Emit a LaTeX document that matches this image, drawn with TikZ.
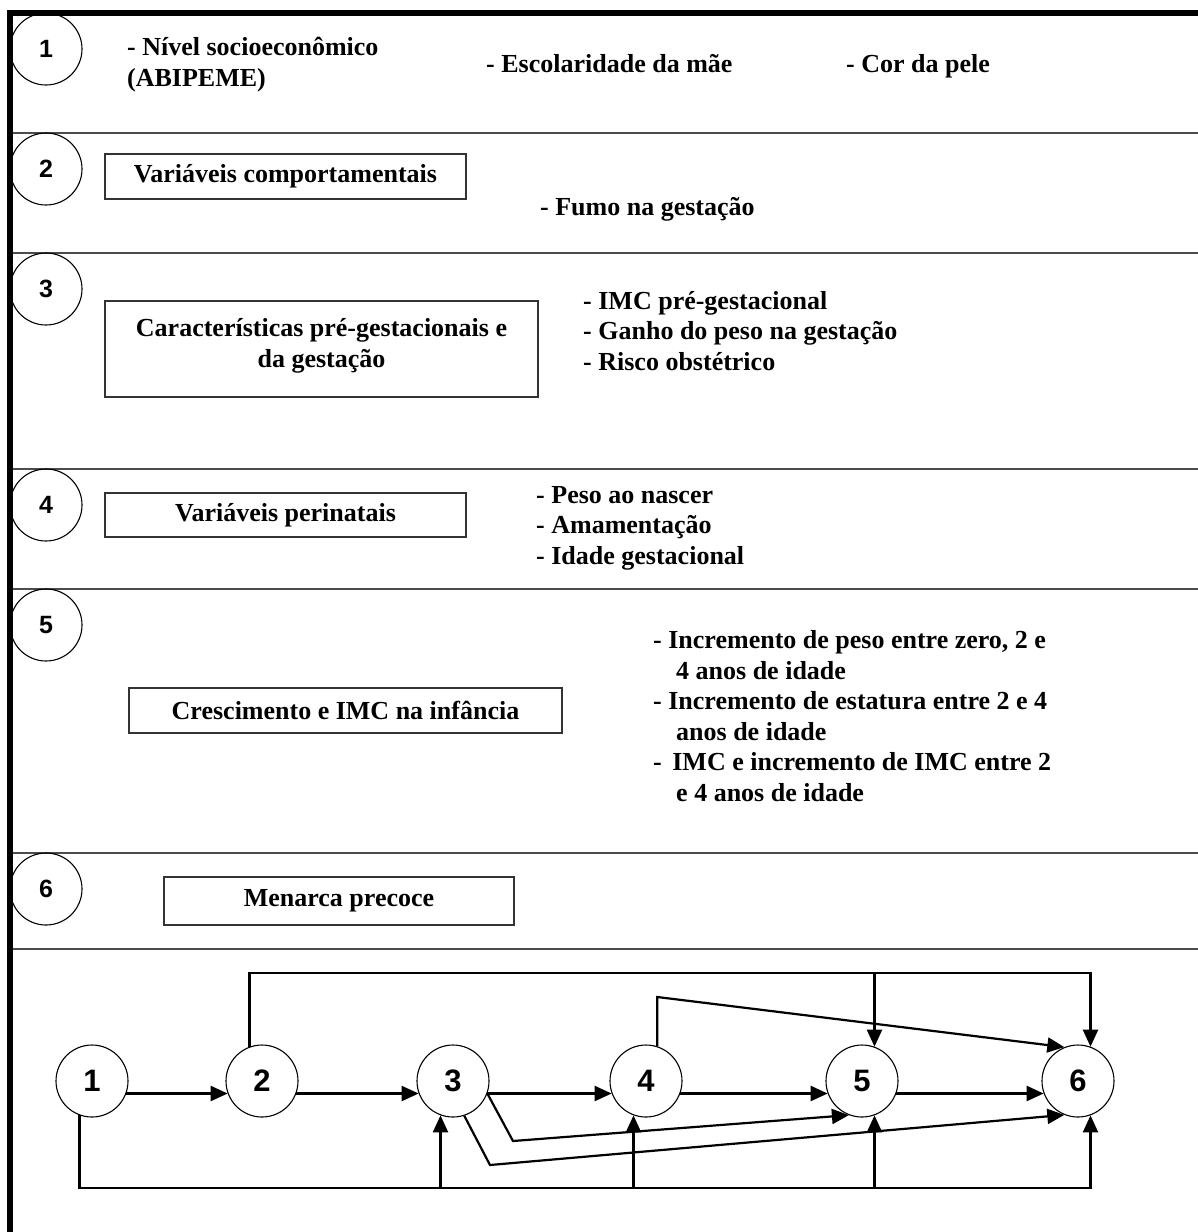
\documentclass[tikz,border=0pt]{standalone}
\usepackage{fontspec}
\setmainfont{Liberation Serif}
\setsansfont{Liberation Sans}
\usetikzlibrary{arrows.meta,positioning}
\begin{document}
\begin{tikzpicture}[x=1pt,y=-1pt,
	item/.style={anchor=base west,inner sep=0pt,align=left,font=\fontsize{26}{30.5}\selectfont\bfseries},
	box/.style={draw=black!80,line width=1.2pt,inner sep=0pt,align=center,font=\fontsize{26}{30.5}\selectfont\bfseries},
	num/.style={draw,circle,line width=1.1pt,minimum size=72pt,inner sep=0pt,font=\fontsize{25}{25}\selectfont\sffamily\bfseries},
	stage/.style={num,font=\fontsize{31}{31}\selectfont\sffamily\bfseries},
	sep/.style={draw=black!70,line width=2pt},
	arr/.style={line width=2.2pt,-{Triangle[length=17pt,width=15pt]}}]
	\useasboundingbox (0,0) rectangle (1198,1232);
	\draw[sep] (13,133) -- (1198,133);
	\draw[sep] (13,253) -- (1198,253);
	\draw[sep] (13,469) -- (1198,469);
	\draw[sep] (13,589) -- (1198,589);
	\draw[sep] (13,853) -- (1198,853);
	\draw[sep] (13,949) -- (1198,949);

	\node[num] (n1) at (46,49) {1};
	\node[num] (n2) at (46,169) {2};
	\node[num] (n3) at (46,289) {3};
	\node[num] (n4) at (46,505) {4};
	\node[num] (n5) at (46,625) {5};
	\node[num] (n6) at (46,889) {6};

	\node[item] (socio) at (127,86) {- Nível socioeconômico\\(ABIPEME)};
	\node[item] (escol) at (486,72) {- Escolaridade da mãe};
	\node[item] (cor) at (846,72) {- Cor da pele};

	\node[box,minimum width=361pt,minimum height=45pt] (comport) at (285.5,176.5) {Variáveis comportamentais};
	\node[item] (fumo) at (540,215) {- Fumo na gestação};

	\node[box,minimum width=433pt,minimum height=96pt] (pregest) at (321.5,349) {};
	\node[box,draw=none,anchor=north] (pregestlbl) at (321.5,318) {Características pré-gestacionais e\\da gestação};
	\node[item] (imc) at (583,370) {- IMC pré-gestacional\\- Ganho do peso na gestação\\- Risco obstétrico};

	\node[box,minimum width=361pt,minimum height=44pt] (perinat) at (285.5,515) {Variáveis perinatais};
	\node[item] (peso) at (536,564) {- Peso ao nascer\\- Amamentação\\- Idade gestacional};

	\node[box,minimum width=433pt,minimum height=45pt] (cresc) at (345.5,710.5) {Crescimento e IMC na infância};
	\node[item] (increm) at (653,801) {- Incremento de peso entre zero, 2 e\\\hspace*{23pt}4 anos de idade\\- Incremento de estatura entre 2 e 4\\\hspace*{23pt}anos de idade\\- \hspace{4pt}IMC e incremento de IMC entre 2\\\hspace*{23pt}e 4 anos de idade};

	\node[box,minimum width=350pt,minimum height=48pt] (menarca) at (339,901) {Menarca precoce};

	\draw[line width=6pt] (10,1232) -- (10,13) -- (1198,13);

	\node[stage] (c1) at (92,1081) {1};
	\node[stage] (c2) at (262,1081) {2};
	\node[stage] (c3) at (453,1081) {3};
	\node[stage] (c4) at (646,1081) {4};
	\node[stage] (c5) at (862,1081) {5};
	\node[stage] (c6) at (1078,1081) {6};
	\coordinate (high) at (0,973);
	\coordinate (mid) at (0,997);
	\coordinate (low) at (0,1188);
	\coordinate (bendA) at (513,1141);
	\coordinate (bendB) at (490,1165);

	\draw[arr] (c1.-20) -- (c2.200);
	\draw[arr] (c2.-20) -- (c3.200);
	\draw[arr] (c3.-20) -- (c4.200);
	\draw[arr] (c4.-20) -- (c5.200);
	\draw[arr] (c5.-20) -- (c6.200);
	\draw[arr] (c2.110) -- (c2.110 |- high) -| (c6.70);
	\draw[arr] (c5.70 |- high) -- (c5.70);
	\draw[arr] (c4.72) -- (c4.72 |- mid) -- (c6.112);
	\draw[arr] (c3.-20) -- (bendA) -- (c5.249);
	\draw[arr] (c3.-72) -- (bendB) -- (c6.248);
	\draw[arr] (c1.250) -- (c1.250 |- low) -| (c6.-70);
	\draw[arr] (c3.250 |- low) -- (c3.250);
	\draw[arr] (c4.250 |- low) -- (c4.250);
	\draw[arr] (c5.-70 |- low) -- (c5.-70);
\end{tikzpicture}
\end{document}
